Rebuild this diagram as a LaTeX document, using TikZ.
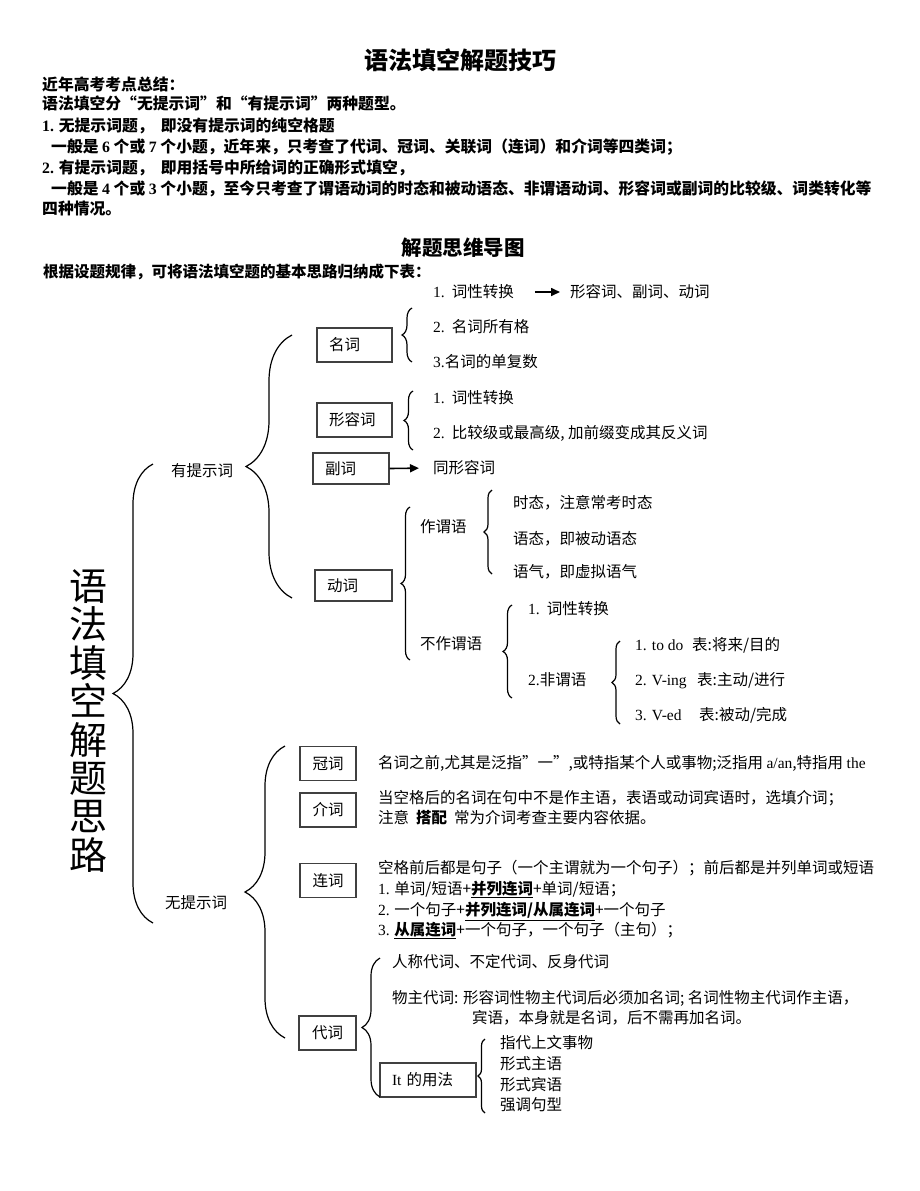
\documentclass[tikz,border=0pt]{standalone}
\usepackage{fontspec}
\setmainfont{Liberation Serif}
\newfontfamily\cjk{Noto Sans CJK SC}
\usetikzlibrary{decorations.pathreplacing,arrows.meta}

\newcommand{\enx}[1]{{\rmfamily #1}}
\newcommand{\enb}[1]{{\rmfamily\bfseries #1}}

\tikzset{
  txt/.style={anchor=west, inner sep=0pt, text height=13pt, text depth=2pt,
    font=\cjk\fontsize{15.5}{18}\selectfont},
  head/.style={txt, font=\cjk\bfseries\fontsize{15.8}{18}\selectfont},
  tbox/.style={draw=black!75, line width=1.1pt, minimum height=34pt,
    inner xsep=12pt, inner ysep=0pt, align=left,
    font=\cjk\fontsize{15.5}{18}\selectfont},
  brc/.style={decorate, decoration={brace, amplitude=#1}, line width=1.2pt},
  arr/.style={-{Triangle[length=9pt,width=8pt]}, line width=1.6pt},
}

\begin{document}
\begin{tikzpicture}[x=1pt, y=-1pt]
\useasboundingbox (0,0) rectangle (920,1191);

% heading
\node[font=\cjk\bfseries\fontsize{24}{28}\selectfont] (title) at (460,60) {语法填空解题技巧};
\node[head] (h1) at (42,85) {近年高考考点总结：};
\node[head] (h2) at (42,104) {语法填空分“无提示词”和“有提示词”两种题型。};
\node[head] (h3) at (42,126) {\enb{1.} 无提示词题，\ \ 即没有提示词的纯空格题};
\node[head] (h4) at (51,147) {一般是 \enb{6} 个或 \enb{7} 个小题，近年来，只考查了代词、冠词、关联词（连词）和介词等四类词；};
\node[head] (h5) at (42,168) {\enb{2.} 有提示词题，\ \ 即用括号中所给词的正确形式填空，};
\node[head] (h6) at (51,189) {一般是 \enb{4} 个或 \enb{3} 个小题，至今只考查了谓语动词的时态和被动语态、非谓语动词、形容词或副词的比较级、词类转化等};
\node[head] (h7) at (42,209) {四种情况。};

\node[font=\cjk\bfseries\fontsize{20.5}{24}\selectfont] (sub) at (463,248) {解题思维导图};
\node[head, font=\cjk\bfseries\fontsize{15.5}{18}\selectfont] (h8) at (43,272) {根据设题规律，可将语法填空题的基本思路归纳成下表：};

% root
\node[font=\cjk\fontsize{38}{38.4}\selectfont, align=center, inner sep=0pt] (root) at (88,721)
  {语\\法\\填\\空\\解\\题\\思\\路};
\node[txt] (yes) at (171,471) {有提示词};
\node[txt] (no) at (165,903) {无提示词};

% with hint word
\node[tbox, text width=51pt] (mingci) at (354.5,345) {名词};
\node[tbox, text width=51pt] (xingrong) at (354.5,420) {形容词};
\node[tbox, text width=52pt, minimum height=31pt] (fuci) at (351,468.5) {副词};
\node[tbox, text width=53pt, minimum height=31pt] (dongci) at (353.5,585.5) {动词};

\node[txt] (mc1) at (433,292) {\enx{1.}\ \ 词性转换};
\node[txt] (mc1b) at (570,292) {形容词、副词、动词};
\node[txt] (mc2) at (433,327) {\enx{2.}\ \ 名词所有格};
\node[txt] (mc3) at (433,362) {\enx{3.}名词的单复数};
\node[txt] (xr1) at (433,398) {\enx{1.}\ \ 词性转换};
\node[txt] (xr2) at (433,433) {\enx{2.}\ \ 比较级或最高级, 加前缀变成其反义词};
\node[txt] (fc1) at (433,468) {同形容词};

\node[txt] (wy) at (420,527) {作谓语};
\node[txt] (wy1) at (513,503) {时态，注意常考时态};
\node[txt] (wy2) at (513,539) {语态，即被动语态};
\node[txt] (wy3) at (513,572) {语气，即虚拟语气};
\node[txt] (bw) at (420,644) {不作谓语};
\node[txt] (bw1) at (528,609) {\enx{1.}\ \ 词性转换};
\node[txt] (bw2) at (528,680) {\enx{2.}非谓语};
\node[txt] (fw1) at (635,645) {\enx{\makebox[57pt][l]{1. to do}}表:将来/目的};
\node[txt] (fw2) at (635,680) {\enx{\makebox[62pt][l]{2. V-ing}}表:主动/进行};
\node[txt] (fw3) at (635,715) {\enx{\makebox[64pt][l]{3. V-ed}}表:被动/完成};

\draw[arr, shorten <=21pt, shorten >=10pt] (mc1.east) -- (mc1b.west);
\draw[arr, shorten >=14pt] (fuci.east) -- (fc1.west);

% without hint word
\node[tbox, text width=32pt, align=center] (guanci) at (328,763.5) {冠词};
\node[tbox, text width=32pt, align=center] (jieci) at (328,810) {介词};
\node[tbox, text width=32pt, align=center] (lianci) at (328,880.5) {连词};
\node[tbox, text width=33pt, align=center] (daici) at (327.5,1033) {代词};
\node[tbox, text width=72pt] (itbox) at (428,1080) {\enx{It} 的用法};

\node[txt] (gc1) at (378,763) {名词之前,尤其是泛指”一”,或特指某个人或事物;泛指用 \enx{a/an},特指用 \enx{the}};
\node[txt] (jc1) at (378,798) {当空格后的名词在句中不是作主语，表语或动词宾语时，选填介词；};
\node[txt] (jc2) at (378,818) {注意\ \ {\bfseries 搭配}\ \ 常为介词考查主要内容依据。};
\node[txt] (lc1) at (378,868) {空格前后都是句子（一个主谓就为一个句子）；前后都是并列单词或短语};
\node[txt] (lc2) at (378,889) {\enx{1.} 单词/短语+\underline{\bfseries 并列连词}+单词/短语；};
\node[txt] (lc3) at (378,910) {\enx{2.} 一个句子+\underline{\bfseries 并列连词/从属连词}+一个句子};
\node[txt] (lc4) at (378,930) {\enx{3.} \underline{\bfseries 从属连词}+一个句子，一个句子（主句）；};
\node[txt] (dc1) at (392,962) {人称代词、不定代词、反身代词};
\node[txt] (dc2) at (392,998) {物主代词: 形容词性物主代词后必须加名词; 名词性物主代词作主语，};
\node[txt] (dc3) at (472,1018) {宾语，本身就是名词，后不需再加名词。};
\node[txt] (it1) at (500,1043) {指代上文事物};
\node[txt] (it2) at (500,1064) {形式主语};
\node[txt] (it3) at (500,1085) {形式宾语};
\node[txt] (it4) at (500,1105) {强调句型};

% braces
\coordinate (rootT) at (153,464);  \coordinate (rootB) at (153,923);
\coordinate (yesT) at (292,335);   \coordinate (yesB) at (292,598);
\coordinate (noT) at (285,746);    \coordinate (noB) at (285,1038);
\coordinate (mcT) at (412,308);    \coordinate (mcB) at (412,362);
\coordinate (xrT) at (413,391);    \coordinate (xrB) at (413,450);
\coordinate (dcT) at (410,507);    \coordinate (dcB) at (410,660);
\coordinate (wyT) at (492,490);    \coordinate (wyB) at (492,574);
\coordinate (bwT) at (512,605);    \coordinate (bwB) at (512,698);
\coordinate (fwT) at (620,641);    \coordinate (fwB) at (620,724);
\coordinate (pnT) at (380,958);    \coordinate (pnB) at (380,1097);
\coordinate (itT) at (485,1039);   \coordinate (itB) at (485,1113);
\draw[brc=40] (rootB) -- (rootT);
\draw[brc=46] (yesB) -- (yesT);
\draw[brc=40] (noB) -- (noT);
\draw[brc=10] (mcB) -- (mcT);
\draw[brc=9] (xrB) -- (xrT);
\draw[brc=9] (dcB) -- (dcT);
\draw[brc=8] (wyB) -- (wyT);
\draw[brc=9] (bwB) -- (bwT);
\draw[brc=8] (fwB) -- (fwT);
\draw[brc=18] (pnB) -- (pnT);
\draw[brc=7] (itB) -- (itT);
\end{tikzpicture}
\end{document}
